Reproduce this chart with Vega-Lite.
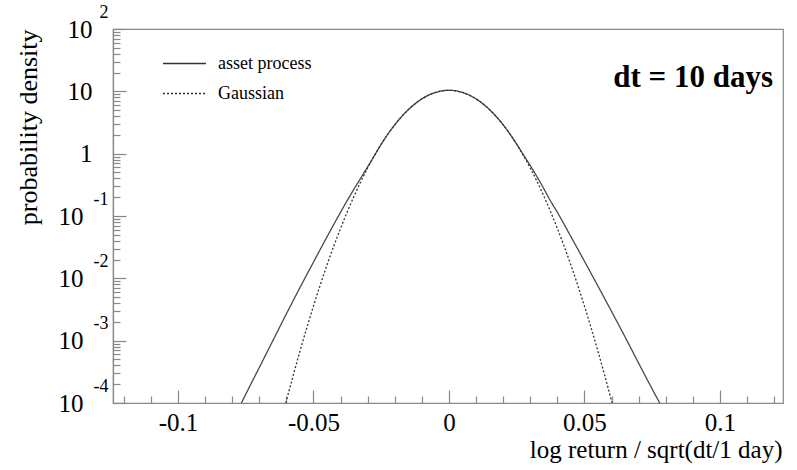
{
  "$schema": "https://vega.github.io/schema/vega-lite/v6.json",
  "width": 670,
  "height": 374,
  "autosize": "none",
  "padding": {"left": 113, "top": 29, "right": 14, "bottom": 67},
  "background": "white",
  "config": {
    "view": {"stroke": "#888888", "strokeWidth": 1.2},
    "font": "Liberation Serif",
    "axis": {"labelOverlap": false}
  },
  "title": {
    "text": "dt = 10 days",
    "anchor": "end",
    "frame": "group",
    "font": "Liberation Serif",
    "fontSize": 31,
    "fontWeight": "bold",
    "color": "black",
    "baseline": "alphabetic",
    "offset": 0,
    "dx": -10,
    "dy": 115
  },
  "data": {
    "values": [
      {"x": -0.0766, "density": 0.0001, "series": "asset process"},
      {"x": -0.075, "density": 0.000138, "series": "asset process"},
      {"x": -0.07, "density": 0.0003715, "series": "asset process"},
      {"x": -0.065, "density": 0.001, "series": "asset process"},
      {"x": -0.06, "density": 0.002692, "series": "asset process"},
      {"x": -0.055, "density": 0.007096, "series": "asset process"},
      {"x": -0.05, "density": 0.01824, "series": "asset process"},
      {"x": -0.045, "density": 0.04634, "series": "asset process"},
      {"x": -0.04, "density": 0.1151, "series": "asset process"},
      {"x": -0.0375, "density": 0.1786, "series": "asset process"},
      {"x": -0.035, "density": 0.2723, "series": "asset process"},
      {"x": -0.0325, "density": 0.4093, "series": "asset process"},
      {"x": -0.03, "density": 0.6166, "series": "asset process"},
      {"x": -0.0275, "density": 0.9333, "series": "asset process"},
      {"x": -0.025, "density": 1.419, "series": "asset process"},
      {"x": -0.0225, "density": 2.07, "series": "asset process"},
      {"x": -0.02, "density": 2.904, "series": "asset process"},
      {"x": -0.0175, "density": 3.917, "series": "asset process"},
      {"x": -0.015, "density": 5.082, "series": "asset process"},
      {"x": -0.0125, "density": 6.324, "series": "asset process"},
      {"x": -0.01, "density": 7.568, "series": "asset process"},
      {"x": -0.0075, "density": 8.69, "series": "asset process"},
      {"x": -0.005, "density": 9.594, "series": "asset process"},
      {"x": -0.0025, "density": 10.19, "series": "asset process"},
      {"x": 0, "density": 10.4, "series": "asset process"},
      {"x": 0.0025, "density": 10.19, "series": "asset process"},
      {"x": 0.005, "density": 9.594, "series": "asset process"},
      {"x": 0.0075, "density": 8.69, "series": "asset process"},
      {"x": 0.01, "density": 7.568, "series": "asset process"},
      {"x": 0.0125, "density": 6.324, "series": "asset process"},
      {"x": 0.015, "density": 5.082, "series": "asset process"},
      {"x": 0.0175, "density": 3.917, "series": "asset process"},
      {"x": 0.02, "density": 2.904, "series": "asset process"},
      {"x": 0.0225, "density": 2.07, "series": "asset process"},
      {"x": 0.025, "density": 1.419, "series": "asset process"},
      {"x": 0.0275, "density": 0.955, "series": "asset process"},
      {"x": 0.03, "density": 0.6457, "series": "asset process"},
      {"x": 0.0325, "density": 0.4266, "series": "asset process"},
      {"x": 0.035, "density": 0.2754, "series": "asset process"},
      {"x": 0.0375, "density": 0.1738, "series": "asset process"},
      {"x": 0.04, "density": 0.1148, "series": "asset process"},
      {"x": 0.045, "density": 0.04677, "series": "asset process"},
      {"x": 0.05, "density": 0.01884, "series": "asset process"},
      {"x": 0.055, "density": 0.007499, "series": "asset process"},
      {"x": 0.06, "density": 0.002951, "series": "asset process"},
      {"x": 0.065, "density": 0.001148, "series": "asset process"},
      {"x": 0.07, "density": 0.0004365, "series": "asset process"},
      {"x": 0.075, "density": 0.0001679, "series": "asset process"},
      {"x": 0.0778, "density": 0.0001, "series": "asset process"},

      {"x": -0.0602, "density": 0.0001, "series": "Gaussian"},
      {"x": -0.06, "density": 0.0001081, "series": "Gaussian"},
      {"x": -0.0575, "density": 0.0002754, "series": "Gaussian"},
      {"x": -0.055, "density": 0.0006761, "series": "Gaussian"},
      {"x": -0.0525, "density": 0.001592, "series": "Gaussian"},
      {"x": -0.05, "density": 0.003597, "series": "Gaussian"},
      {"x": -0.0475, "density": 0.007834, "series": "Gaussian"},
      {"x": -0.045, "density": 0.01637, "series": "Gaussian"},
      {"x": -0.0425, "density": 0.03289, "series": "Gaussian"},
      {"x": -0.04, "density": 0.06339, "series": "Gaussian"},
      {"x": -0.0375, "density": 0.1175, "series": "Gaussian"},
      {"x": -0.035, "density": 0.2094, "series": "Gaussian"},
      {"x": -0.0325, "density": 0.3589, "series": "Gaussian"},
      {"x": -0.03, "density": 0.5902, "series": "Gaussian"},
      {"x": -0.0275, "density": 0.9333, "series": "Gaussian"},
      {"x": -0.025, "density": 1.419, "series": "Gaussian"},
      {"x": -0.0225, "density": 2.07, "series": "Gaussian"},
      {"x": -0.02, "density": 2.904, "series": "Gaussian"},
      {"x": -0.0175, "density": 3.917, "series": "Gaussian"},
      {"x": -0.015, "density": 5.082, "series": "Gaussian"},
      {"x": -0.0125, "density": 6.324, "series": "Gaussian"},
      {"x": -0.01, "density": 7.568, "series": "Gaussian"},
      {"x": -0.0075, "density": 8.69, "series": "Gaussian"},
      {"x": -0.005, "density": 9.594, "series": "Gaussian"},
      {"x": -0.0025, "density": 10.19, "series": "Gaussian"},
      {"x": 0, "density": 10.4, "series": "Gaussian"},
      {"x": 0.0025, "density": 10.19, "series": "Gaussian"},
      {"x": 0.005, "density": 9.594, "series": "Gaussian"},
      {"x": 0.0075, "density": 8.69, "series": "Gaussian"},
      {"x": 0.01, "density": 7.568, "series": "Gaussian"},
      {"x": 0.0125, "density": 6.324, "series": "Gaussian"},
      {"x": 0.015, "density": 5.082, "series": "Gaussian"},
      {"x": 0.0175, "density": 3.917, "series": "Gaussian"},
      {"x": 0.02, "density": 2.904, "series": "Gaussian"},
      {"x": 0.0225, "density": 2.07, "series": "Gaussian"},
      {"x": 0.025, "density": 1.419, "series": "Gaussian"},
      {"x": 0.0275, "density": 0.9333, "series": "Gaussian"},
      {"x": 0.03, "density": 0.5902, "series": "Gaussian"},
      {"x": 0.0325, "density": 0.3589, "series": "Gaussian"},
      {"x": 0.035, "density": 0.2094, "series": "Gaussian"},
      {"x": 0.0375, "density": 0.1175, "series": "Gaussian"},
      {"x": 0.04, "density": 0.06339, "series": "Gaussian"},
      {"x": 0.0425, "density": 0.03289, "series": "Gaussian"},
      {"x": 0.045, "density": 0.01637, "series": "Gaussian"},
      {"x": 0.0475, "density": 0.007834, "series": "Gaussian"},
      {"x": 0.05, "density": 0.003597, "series": "Gaussian"},
      {"x": 0.0525, "density": 0.001592, "series": "Gaussian"},
      {"x": 0.055, "density": 0.0006761, "series": "Gaussian"},
      {"x": 0.0575, "density": 0.0002754, "series": "Gaussian"},
      {"x": 0.06, "density": 0.0001081, "series": "Gaussian"},
      {"x": 0.0602, "density": 0.0001, "series": "Gaussian"}
    ]
  },
  "layer": [
    {
      "transform": [{"filter": "datum.series == 'asset process'"}],
      "mark": {"type": "line", "interpolate": "monotone", "strokeWidth": 1.3, "clip": true, "color": "#4a4a4a"},
      "encoding": {
        "x": {
          "field": "x", "type": "quantitative",
          "scale": {"domain": [-0.124, 0.1233], "nice": false, "zero": false},
          "axis": {
            "orient": "bottom",
            "values": [-0.12, -0.11, -0.1, -0.09, -0.08, -0.07, -0.06, -0.05, -0.04, -0.03, -0.02, -0.01, 0, 0.01, 0.02, 0.03, 0.04, 0.05, 0.06, 0.07, 0.08, 0.09, 0.1, 0.11, 0.12],
            "labels": false,
            "tickSize": {"condition": {"test": "abs(datum.value*20 - round(datum.value*20)) < 0.001", "value": -13}, "value": -7},
            "tickColor": "#888888",
            "tickWidth": 1.2,
            "domainColor": "#888888",
            "domainWidth": 1.2,
            "grid": false,
            "title": "log return / sqrt(dt/1 day)",
            "titleFont": "Liberation Serif",
            "titleFontSize": 25,
            "titleFontWeight": "normal",
            "titleColor": "black",
            "titleX": 669,
            "titleY": 54,
            "titleAlign": "right",
            "titleBaseline": "alphabetic"
          }
        },
        "y": {
          "field": "density", "type": "quantitative",
          "scale": {"type": "log", "domain": [0.0001, 100], "nice": false},
          "axis": {
            "values": [0.0001, 0.0002, 0.0003, 0.0004, 0.0005, 0.0006, 0.0007, 0.0008, 0.0009, 0.001, 0.002, 0.003, 0.004, 0.005, 0.006, 0.007, 0.008, 0.009, 0.01, 0.02, 0.03, 0.04, 0.05, 0.06, 0.07, 0.08, 0.09, 0.1, 0.2, 0.3, 0.4, 0.5, 0.6, 0.7, 0.8, 0.9, 1, 2, 3, 4, 5, 6, 7, 8, 9, 10, 20, 30, 40, 50, 60, 70, 80, 90, 100],
            "labelExpr": "abs(log(datum.value)/LN10 - round(log(datum.value)/LN10)) < 0.000001 ? (datum.value == 1 ? '1' : '10') : ''",
            "tickSize": {"condition": {"test": "abs(log(datum.value)/LN10 - round(log(datum.value)/LN10)) < 0.000001", "value": -13}, "value": -7},
            "labelPadding": {"condition": {"test": "datum.value < 0.5", "value": 43}, "value": 34},
            "labelFont": "Liberation Serif",
            "labelFontSize": 25,
            "labelColor": "black",
            "labelBaseline": "middle",
            "labelAlign": "right",
            "labelFlush": false,
            "labelOverlap": false,
            "tickColor": "#888888",
            "tickWidth": 1.2,
            "domainColor": "#888888",
            "domainWidth": 1.2,
            "grid": false,
            "orient": "left",
            "title": "probability density",
            "titleFont": "Liberation Serif",
            "titleFontSize": 26,
            "titleFontWeight": "normal",
            "titleColor": "black",
            "titleAngle": -90,
            "titleX": -72,
            "titleY": 0,
            "titleAlign": "right",
            "titleBaseline": "bottom"
          }
        },
        "strokeDash": {
          "field": "series", "type": "nominal",
          "scale": {"domain": ["asset process", "Gaussian"], "range": [[1, 0], [2, 2]]},
          "legend": {
            "orient": "none",
            "legendX": 58,
            "legendY": 21,
            "title": null,
            "symbolType": "M-1.72,0H1.72",
            "symbolSize": 625,
            "symbolStrokeWidth": 1.3,
            "symbolStrokeColor": "#444444",
            "labelFont": "Liberation Serif",
            "labelFontSize": 18,
            "labelColor": "black",
            "labelOffset": 20,
            "rowPadding": 7,
            "padding": 0
          }
        }
      }
    },
    {
      "transform": [{"filter": "datum.series == 'Gaussian'"}],
      "mark": {"type": "line", "interpolate": "monotone", "strokeWidth": 1.3, "clip": true, "color": "#333333"},
      "encoding": {
        "x": {
          "field": "x", "type": "quantitative",
          "scale": {"domain": [-0.124, 0.1233], "nice": false, "zero": false},
          "axis": {
            "orient": "bottom",
            "values": [-0.1, -0.05, 0, 0.05, 0.1],
            "labelExpr": "abs(datum.value + 0.1) < 0.001 ? '-0.1' : abs(datum.value + 0.05) < 0.001 ? '-0.05' : abs(datum.value) < 0.001 ? '0' : abs(datum.value - 0.05) < 0.001 ? '0.05' : '0.1'",
            "ticks": false,
            "domain": false,
            "grid": false,
            "labelPadding": 7,
            "labelBaseline": "top",
            "labelFont": "Liberation Serif",
            "labelFontSize": 25,
            "labelColor": "black",
            "labelFlush": false,
            "labelOverlap": false,
            "title": null
          }
        },
        "y": {
          "field": "density", "type": "quantitative",
          "scale": {"type": "log", "domain": [0.0001, 100], "nice": false},
          "axis": {
            "orient": "left",
            "values": [0.0001, 0.001, 0.01, 0.1, 100],
            "labelExpr": "'' + round(log(datum.value)/LN10)",
            "ticks": false,
            "domain": false,
            "grid": false,
            "labelPadding": 5,
            "labelOffset": -17,
            "labelFont": "Liberation Serif",
            "labelFontSize": 18,
            "labelColor": "black",
            "labelAlign": "right",
            "labelBaseline": "middle",
            "labelFlush": false,
            "labelOverlap": false,
            "title": null
          }
        },
        "strokeDash": {"field": "series", "type": "nominal"}
      }
    }
  ],
  "resolve": {"scale": {"x": "independent", "y": "independent"}}
}
